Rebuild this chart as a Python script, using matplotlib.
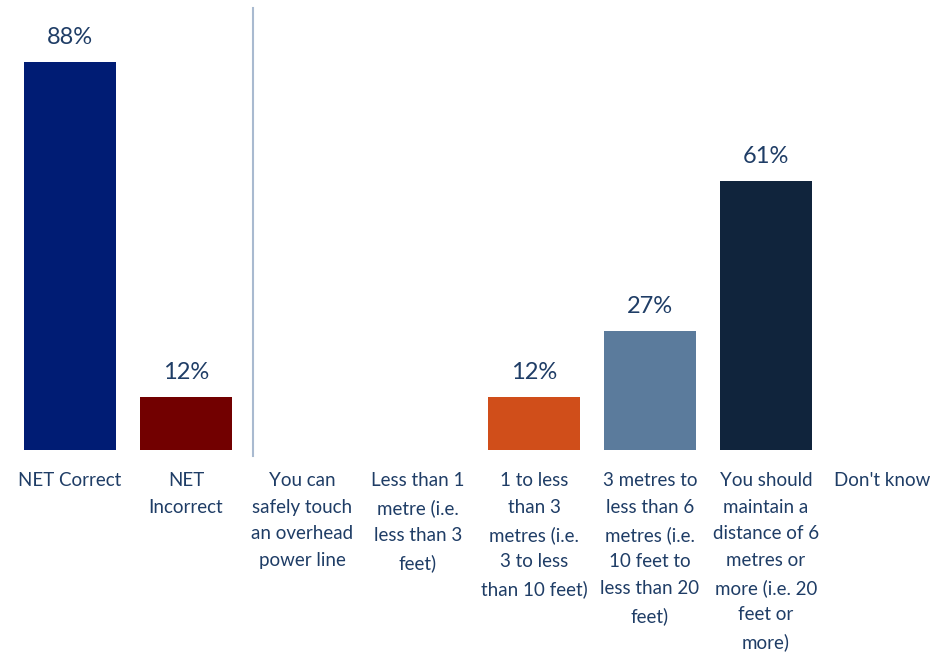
import matplotlib.pyplot as plt

categories = [
    "NET Correct",
    "NET\nIncorrect",
    "You can\nsafely touch\nan overhead\npower line",
    "Less than 1\nmetre (i.e.\nless than 3\nfeet)",
    "1 to less\nthan 3\nmetres (i.e.\n3 to less\nthan 10 feet)",
    "3 metres to\nless than 6\nmetres (i.e.\n10 feet to\nless than 20\nfeet)",
    "You should\nmaintain a\ndistance of 6\nmetres or\nmore (i.e. 20\nfeet or\nmore)",
    "Don't know",
]
values = [88, 12, 0, 0, 12, 27, 61, 0]
colors = ["#001c74", "#720000", "#d04e1a", "#d04e1a", "#d04e1a", "#5b7b9c", "#10243c", "#10243c"]

text_color = "#1f3d66"

plt.rcParams["font.family"] = ["Lato", "DejaVu Sans"]

fig = plt.figure(figsize=(9.53, 6.52), dpi=100)
ax = fig.add_axes([0, 202 / 652, 1, 450 / 652])

x = list(range(len(categories)))
bars = ax.bar(x, values, width=0.8, color=colors)

for rect, v in zip(bars, values):
    if v > 0:
        ax.annotate(f"{v}%", (rect.get_x() + rect.get_width() / 2, v),
                    xytext=(0, 10), textcoords="offset points",
                    ha="center", va="bottom", fontsize=17, color=text_color)

# separator between the summary bars and the answer options
ax.plot([1.58, 1.58], [-1.4, 100.2], color="#a9bad0", lw=1.5, clip_on=False)

ax.set_xlim(-0.603, 7.612)
ax.set_ylim(0, 102)
ax.set_xticks(x)
ax.set_xticklabels(categories, fontsize=13.5, color=text_color, linespacing=1.68, va="top")
ax.tick_params(axis="x", length=0, pad=16)
ax.set_yticks([])
for s in ax.spines.values():
    s.set_visible(False)

fig.savefig("out.png", dpi=100)
